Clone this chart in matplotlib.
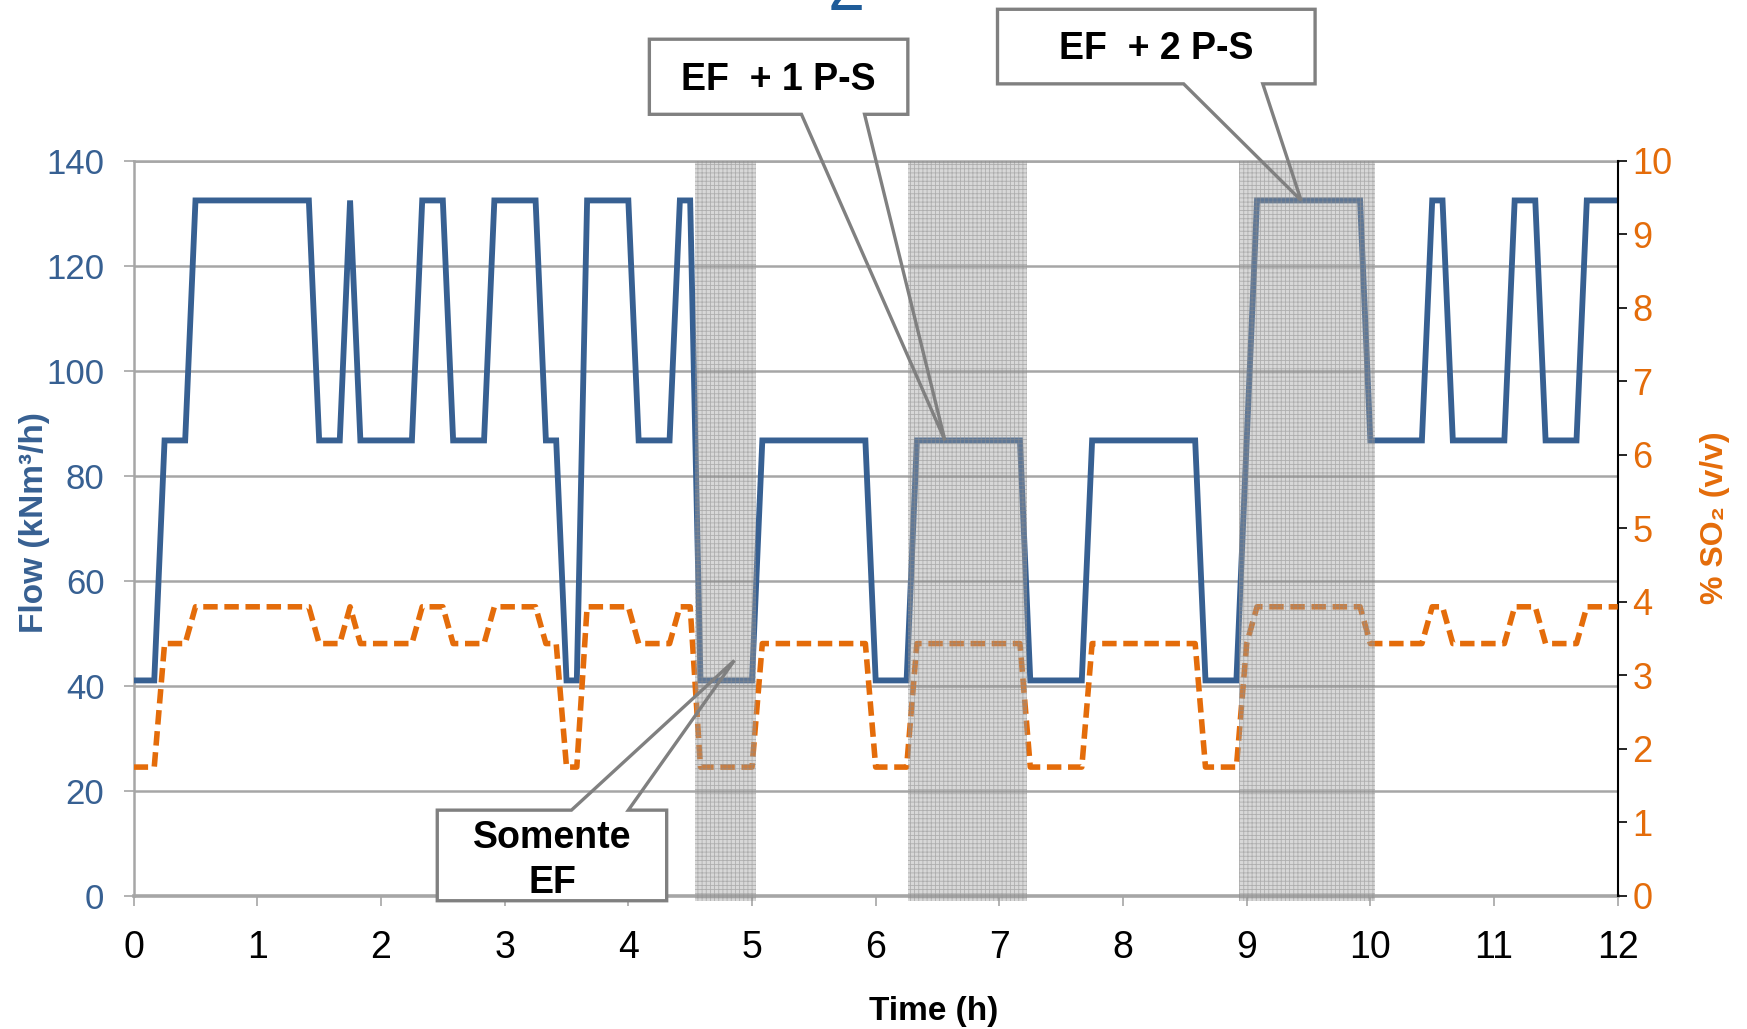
import matplotlib
matplotlib.use('Agg')
import matplotlib.pyplot as plt
from matplotlib.patches import Polygon, Rectangle

plt.rcParams['font.family'] = ['Liberation Sans', 'DejaVu Sans']
plt.rcParams['hatch.linewidth'] = 0.6

# tempo (min) dos vertices das curvas
tempo_min = [0, 10, 15, 25, 30, 85, 90, 100, 105, 110, 135, 140, 150, 155, 170, 175,
             195, 200, 205, 210, 215, 220, 240, 245, 260, 265, 270, 275, 300, 305,
             355, 360, 375, 380, 430, 435, 460, 465, 515, 520, 535, 540, 545, 595,
             600, 625, 630, 635, 640, 665, 670, 680, 685, 700, 705, 720]

vazao = [41, 41, 86.7, 86.7, 132.4, 132.4, 86.7, 86.7, 132.4, 86.7, 86.7, 132.4,
         132.4, 86.7, 86.7, 132.4, 132.4, 86.7, 86.7, 41, 41, 132.4, 132.4, 86.7,
         86.7, 132.4, 132.4, 41, 41, 86.7, 86.7, 41, 41, 86.7, 86.7, 41, 41, 86.7,
         86.7, 41, 41, 86.7, 132.4, 132.4, 86.7, 86.7, 132.4, 132.4, 86.7, 86.7,
         132.4, 132.4, 86.7, 86.7, 132.4, 132.4]

so2 = [1.75, 1.75, 3.43, 3.43, 3.93, 3.93, 3.43, 3.43, 3.93, 3.43, 3.43, 3.93,
       3.93, 3.43, 3.43, 3.93, 3.93, 3.43, 3.43, 1.75, 1.75, 3.93, 3.93, 3.43,
       3.43, 3.93, 3.93, 1.75, 1.75, 3.43, 3.43, 1.75, 1.75, 3.43, 3.43, 1.75,
       1.75, 3.43, 3.43, 1.75, 1.75, 3.43, 3.93, 3.93, 3.43, 3.43, 3.93, 3.93,
       3.43, 3.43, 3.93, 3.93, 3.43, 3.43, 3.93, 3.93]

# periodos sombreados (h)
periodos = [(4.535, 5.03), (6.26, 7.225), (8.94, 10.04)]

# baloes: texto, caixa (t0, t1, y0, y1), base da seta (ta, tb), ponta (t, y)
baloes = [
    ('EF  + 1 P-S', (4.17, 6.26, 148.8, 163.1), (5.40, 5.91), (6.56, 86.7)),
    ('EF  + 2 P-S', (6.985, 9.553, 154.6, 168.8), (8.49, 9.13), (9.44, 132.4)),
    ('Somente\nEF', (2.455, 4.31, -0.95, 16.3), (3.54, 4.00), (4.857, 44.8)),
]

azul = '#376092'
laranja = '#E46C0A'
cinza = '#a6a6a6'

tempo_h = [m / 60 for m in tempo_min]

fig = plt.figure(figsize=(17.47, 10.29), dpi=100)
ax = fig.add_axes([0.0765, 0.1295, 0.8495, 0.7145])
ax2 = ax.twinx()

ax.plot(tempo_h, vazao, color=azul, lw=4.2, solid_joinstyle='miter', zorder=3)
ax2.plot(tempo_h, so2, color=laranja, lw=4.0, ls=(0, (2.6, 1.2)), zorder=3)

ax.set_xlim(0, 12)
ax.set_ylim(0, 140)
ax2.set_ylim(0, 10)
ax.set_xticks(range(0, 13))
ax.set_yticks(range(0, 141, 20))
ax2.set_yticks(range(0, 11))

ax.yaxis.grid(True, color=cinza, lw=1.8)
ax.set_axisbelow(True)

ax.spines['right'].set_visible(False)
ax.spines['top'].set_color(cinza)
ax.spines['top'].set_linewidth(1.8)
ax.spines['left'].set_color(cinza)
ax.spines['left'].set_linewidth(1.8)
ax.spines['bottom'].set_color(cinza)
ax.spines['bottom'].set_linewidth(2.6)
for s in ['top', 'left', 'bottom']:
    ax2.spines[s].set_visible(False)
ax2.spines['right'].set_color('black')
ax2.spines['right'].set_linewidth(1.5)

ax.tick_params(axis='x', length=7, width=1.2, color=cinza, labelsize=27, pad=18,
               labelcolor='black')
ax.tick_params(axis='y', length=7, width=1.2, color=cinza, labelsize=25, pad=14,
               labelcolor=azul)
ax2.tick_params(axis='y', length=6.5, width=1.2, color='black', labelsize=26, pad=4,
                labelcolor=laranja)

ax.set_xlabel('Time (h)', fontsize=24, fontweight='bold')
ax.xaxis.set_label_coords(0.539, -0.137)
ax.set_ylabel('Flow (kNm³/h)', fontsize=24, fontweight='bold', color=azul)
ax.yaxis.set_label_coords(-0.0564, 0.507)
ax2.set_ylabel('% SO₂ (v/v)', fontsize=23, fontweight='bold', color=laranja)
ax2.yaxis.set_label_coords(1.0555, 0.514)

# sombreamento por cima das curvas
for t0, t1 in periodos:
    ax2.axvspan(t0, t1, ymin=-0.007, ymax=1, facecolor=(0.62, 0.62, 0.62, 0.40),
                edgecolor=(0.55, 0.55, 0.55, 0.55), hatch='++++', lw=0,
                zorder=4, clip_on=False)

# baloes
for texto, caixa, base, ponta in baloes:
    t0, t1, y0, y1 = caixa
    ta, tb = base
    ax2.add_patch(Rectangle((t0, y0), t1 - t0, y1 - y0, transform=ax.transData,
                            facecolor='white', edgecolor='none', zorder=5,
                            clip_on=False))
    if ponta[1] < y0:
        pts = [(t0, y1), (t1, y1), (t1, y0), (tb, y0), ponta, (ta, y0), (t0, y0)]
    else:
        pts = [(t0, y0), (t1, y0), (t1, y1), (tb, y1), ponta, (ta, y1), (t0, y1)]
    ax2.add_patch(Polygon(pts, closed=True, transform=ax.transData, facecolor='none',
                          edgecolor='#808080', lw=2.4, joinstyle='miter', zorder=6,
                          clip_on=False))
    desloc = 1.0 if '\n' in texto else 0.55
    ax2.text((t0 + t1) / 2, (y0 + y1) / 2 - desloc, texto, transform=ax.transData,
             ha='center', va='center', fontsize=27, fontweight='bold',
             linespacing=1.33, zorder=7, clip_on=False)

# resto do titulo cortado no topo
fig.text(846 / 1747, 1 - 9.5 / 1029, '2', ha='center', va='baseline', fontsize=48,
         color='#1F5C99')

plt.savefig('out.png', dpi=100)
plt.close()
